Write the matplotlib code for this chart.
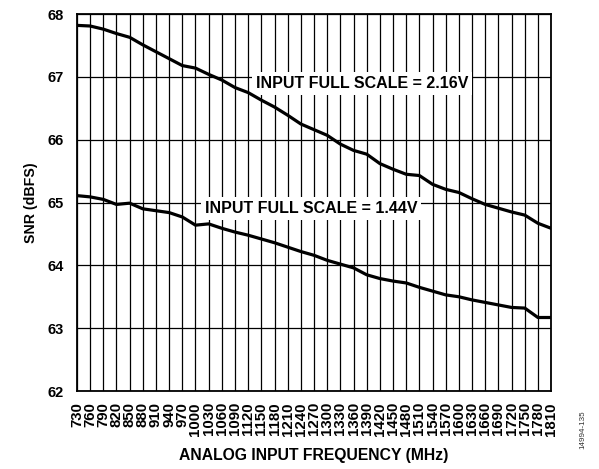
import numpy as np
import matplotlib.pyplot as plt

plt.rcParams['font.family'] = ['Liberation Sans', 'DejaVu Sans']

# ---------------- data ----------------
freq_mhz = np.arange(730, 1811, 30)

# SNR (dBFS) with input full scale = 2.16 V
snr_216 = np.array([67.82, 67.81, 67.76, 67.69, 67.63, 67.51, 67.40, 67.29, 67.18,
                    67.14, 67.04, 66.95, 66.83, 66.75, 66.63, 66.52, 66.39, 66.25,
                    66.16, 66.07, 65.93, 65.83, 65.77, 65.62, 65.53, 65.45, 65.43,
                    65.29, 65.21, 65.16, 65.06, 64.97, 64.91, 64.85, 64.80, 64.67,
                    64.59])

# SNR (dBFS) with input full scale = 1.44 V
snr_144 = np.array([65.11, 65.09, 65.05, 64.97, 64.99, 64.90, 64.87, 64.84, 64.77,
                    64.64, 64.66, 64.59, 64.53, 64.48, 64.42, 64.36, 64.29, 64.22,
                    64.16, 64.08, 64.02, 63.96, 63.85, 63.79, 63.75, 63.72, 63.65,
                    63.59, 63.53, 63.50, 63.45, 63.41, 63.37, 63.33, 63.32, 63.17,
                    63.17])

y_ticks = [62, 63, 64, 65, 66, 67, 68]

# ---------------- plot ----------------
fig = plt.figure(figsize=(5.99, 4.69), dpi=100)
ax = fig.add_axes([0.1285, 0.1663, 0.7915, 0.8037])

ax.plot(freq_mhz, snr_216, color='black', lw=2.3, zorder=4)
ax.plot(freq_mhz, snr_144, color='black', lw=2.3, zorder=4)

ax.set_xlim(freq_mhz[0], freq_mhz[-1])
ax.set_ylim(62, 68)
ax.set_xticks(freq_mhz)
ax.set_xticklabels([str(f) for f in freq_mhz], rotation=90, fontsize=10.8,
                   fontweight='bold')
ax.set_yticks(y_ticks)
ax.set_yticklabels([str(v) for v in y_ticks], fontsize=10.5, fontweight='bold')
ax.tick_params(axis='x', length=0, pad=8)
ax.tick_params(axis='y', length=0, pad=9.5)

ax.grid(True, color='black', lw=0.9)
ax.set_axisbelow(True)
for s in ax.spines.values():
    s.set_linewidth(1.3)

box = dict(facecolor='white', edgecolor='none', pad=3)
ax.text(1379, 66.9, 'INPUT FULL SCALE = 2.16V', fontsize=11.5, fontweight='bold',
        ha='center', va='center', bbox=box, zorder=3)
ax.text(1263, 64.9, 'INPUT FULL SCALE = 1.44V', fontsize=11.5, fontweight='bold',
        ha='center', va='center', bbox=box, zorder=3)

ax.set_xlabel('ANALOG INPUT FREQUENCY (MHz)', fontsize=11.3, fontweight='bold')
ax.xaxis.set_label_coords(0.5, -0.151)
ax.set_ylabel('SNR (dBFS)', fontsize=10.2, fontweight='bold')
ax.yaxis.set_label_coords(-0.082, 0.5)

fig.text(0.973, 0.083, '14994-135', rotation=90, fontsize=5.8, color='#333333',
         ha='center', va='center')

fig.savefig('out.png', dpi=100)
